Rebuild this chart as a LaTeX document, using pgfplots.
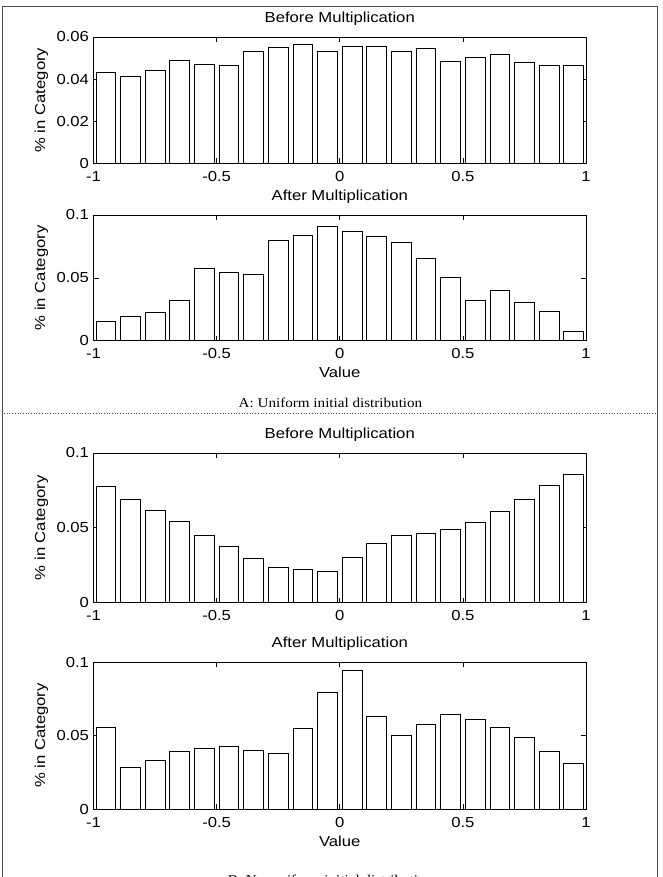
\documentclass[border=0pt]{standalone}
\usepackage{fontspec}
\setmainfont{Liberation Sans}[FakeStretch=1.15]
\newfontfamily\capfont{Liberation Serif}[FakeStretch=1.12]
\usepackage{pgfplots}
\usepackage{pgfplotstable}
\pgfplotsset{compat=1.18}
\pgfplotstableread{
x     a1     a2     b1     b2
-0.95 0.0433 0.0156 0.0779 0.0555
-0.85 0.0412 0.0191 0.0690 0.0284
-0.75 0.0439 0.0225 0.0618 0.0334
-0.65 0.0489 0.0324 0.0542 0.0391
-0.55 0.0472 0.0576 0.0451 0.0414
-0.45 0.0466 0.0546 0.0375 0.0427
-0.35 0.0531 0.0528 0.0295 0.0398
-0.25 0.0549 0.0798 0.0232 0.0377
-0.15 0.0565 0.0838 0.0223 0.0545
-0.05 0.0531 0.0910 0.0210 0.0795
0.05  0.0554 0.0870 0.0304 0.0941
0.15  0.0554 0.0828 0.0393 0.0632
0.25  0.0531 0.0782 0.0449 0.0498
0.35  0.0545 0.0653 0.0464 0.0575
0.45  0.0486 0.0504 0.0491 0.0645
0.55  0.0502 0.0324 0.0536 0.0611
0.65  0.0516 0.0401 0.0612 0.0555
0.75  0.0478 0.0308 0.0688 0.0484
0.85  0.0466 0.0231 0.0781 0.0395
0.95  0.0466 0.0077 0.0859 0.0307
}\histdata
\pgfplotsset{
 histo/.style={
  scale only axis, width=492.5pt,
  xmin=-1, xmax=1, ymin=0,
  xtick={-1,-0.5,0,0.5,1},
  ybar, bar width=0.08,
  tick align=inside, major tick length=5pt,
  axis line style={line width=0.8pt},
  every tick/.style={black, line width=0.7pt},
  font=\fontsize{14.5}{17}\selectfont,
  /pgf/number format/assume math mode=true,
  scaled y ticks=false,
  yticklabel style={/pgf/number format/fixed, /pgf/number format/precision=2, xshift=-1pt},
  xticklabel style={/pgf/number format/fixed, yshift=-4.5pt},
  title style={yshift=12pt, anchor=center},
  ylabel={\% in Category},
  ylabel style={at={(axis description cs:-0.1056,0.5)}, anchor=center},
  xlabel style={at={(axis description cs:0.5,0)}, anchor=center, yshift=-32pt},
 },
 bars/.style={fill=white, draw=black, line width=0.8pt},
}
\begin{document}
\begin{tikzpicture}
\useasboundingbox (0,0) rectangle (663pt,-877pt);
\clip (0,0) rectangle (663pt,-877pt);
\begin{axis}[histo, at={(93.5pt,-163.3pt)}, anchor=south west, height=126.3pt,
  ymax=0.06, ytick={0,0.02,0.04,0.06}, title={Before Multiplication}]
\addplot[bars] table[x=x, y=a1] {\histdata};
\end{axis}
\begin{axis}[histo, at={(93.5pt,-340.7pt)}, anchor=south west, height=125.7pt,
  ymax=0.1, ytick={0,0.05,0.1}, title={After Multiplication}, xlabel={Value}]
\addplot[bars] table[x=x, y=a2] {\histdata};
\end{axis}
\node[font=\capfont\fontsize{13.5}{16}\selectfont] at (330.5pt,-403pt) {A: Uniform initial distribution};
\draw[dotted, line width=0.7pt, gray!70!black] (4pt,-413pt) -- (656pt,-413pt);
\begin{axis}[histo, at={(93.5pt,-602.5pt)}, anchor=south west, height=149.5pt,
  ymax=0.1, ytick={0,0.05,0.1}, title={Before Multiplication}]
\addplot[bars] table[x=x, y=b1] {\histdata};
\end{axis}
\begin{axis}[histo, at={(93.5pt,-809pt)}, anchor=south west, height=147pt,
  ymax=0.1, ytick={0,0.05,0.1}, title={After Multiplication}, xlabel={Value}]
\addplot[bars] table[x=x, y=b2] {\histdata};
\end{axis}
\node[font=\capfont\fontsize{13.5}{16}\selectfont] at (330.5pt,-880pt) {B: Nonuniform initial distribution};
\draw[line width=0.9pt, gray!60!black] (2pt,-900pt) -- (2pt,-6pt) -- (657pt,-6pt) -- (657pt,-900pt);
\end{tikzpicture}
\end{document}
